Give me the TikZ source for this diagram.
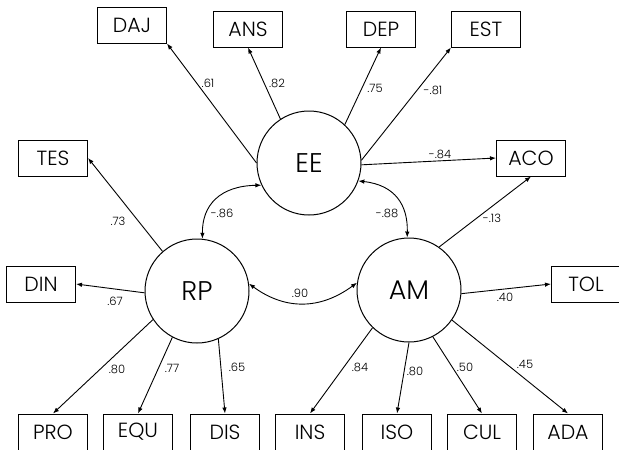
\documentclass[tikz,border=0pt]{standalone}
\usepackage{fontspec}
\setmainfont{Poppins}[UprightFont=* Light]
\usetikzlibrary{arrows.meta}
\begin{document}
\begin{tikzpicture}[x=1pt,y=-1pt,
        obs/.style={draw,line width=1pt,minimum width=69pt,minimum height=36pt,inner sep=0pt,font=\fontsize{20.5}{20.5}\selectfont},
        lat/.style={draw,circle,line width=1pt,minimum size=104pt,inner sep=0pt,font=\fontsize{27}{27}\selectfont},
        wt/.style={inner sep=0pt,font=\fontsize{11.5}{11.5}\selectfont},
        loading/.style={line width=0.9pt,-{Latex[length=6pt,width=4.5pt]}},
        cov/.style={line width=0.9pt,{Latex[length=6pt,width=4.5pt]}-{Latex[length=6pt,width=4.5pt]}}]
        \useasboundingbox (0,0) rectangle (619,450);
        %% latent factors
        \node[lat] (EE) at (309,163) {EE};
        \node[lat] (RP) at (197,291) {RP};
        \node[lat] (AM) at (409,290) {AM};
        %% observed items
        \foreach \name/\x/\y in {DAJ/132/25,ANS/248/29,DEP/381/29,EST/486/29,
                                 TES/53/158,ACO/531/158,DIN/41/284,TOL/586/284,
                                 PRO/53/432,EQU/138/432,DIS/225/432,INS/310/432,
                                 ISO/397/432,CUL/482/432,ADA/568/432}
            \node[obs] (\name) at (\x,\y) {\name};
        %% loadings
        \foreach \a/\b/\s/\t in {EE/DAJ/180/south east,EE/ANS/123/south,EE/DEP/47/south,
                                 EE/EST/3/south west,EE/ACO/358/west,
                                 RP/TES/131/east,RP/DIN/182/east,RP/PRO/213/north,
                                 RP/EQU/242/north,RP/DIS/294/north,
                                 AM/ACO/55/south,AM/TOL/356/west,AM/INS/226/north,
                                 AM/ISO/270/north,AM/CUL/297/north,AM/ADA/325/north}
            \draw[loading] (\a.\s) -- (\b.\t);
        %% correlations between factors
        \draw[cov] (RP.84) .. controls (202,205) and (220,186) .. (EE.205);
        \draw[cov] (EE.340) .. controls (395,185) and (408,205) .. (AM.92);
        \draw[cov] (RP.8) .. controls (285,310) and (320,310) .. (AM.172);
        %% weights
        \foreach \v/\x/\y [count=\i] in {.61/208/83,.82/277/83,.75/375/88,-.81/433/90,
                                         -.84/440/154,-.13/492/218,-.88/387/213,-.86/222/213,
                                         .73/118/221,.67/115/301,.90/300/293,
                                         .80/117/369,.77/172/368,.65/237/367,.40/505/297,
                                         .84/360/367,.80/415/371,.50/465/367,.45/525/364}
            \node[wt] (w\i) at (\x,\y) {\v};
    \end{tikzpicture}
\end{document}
